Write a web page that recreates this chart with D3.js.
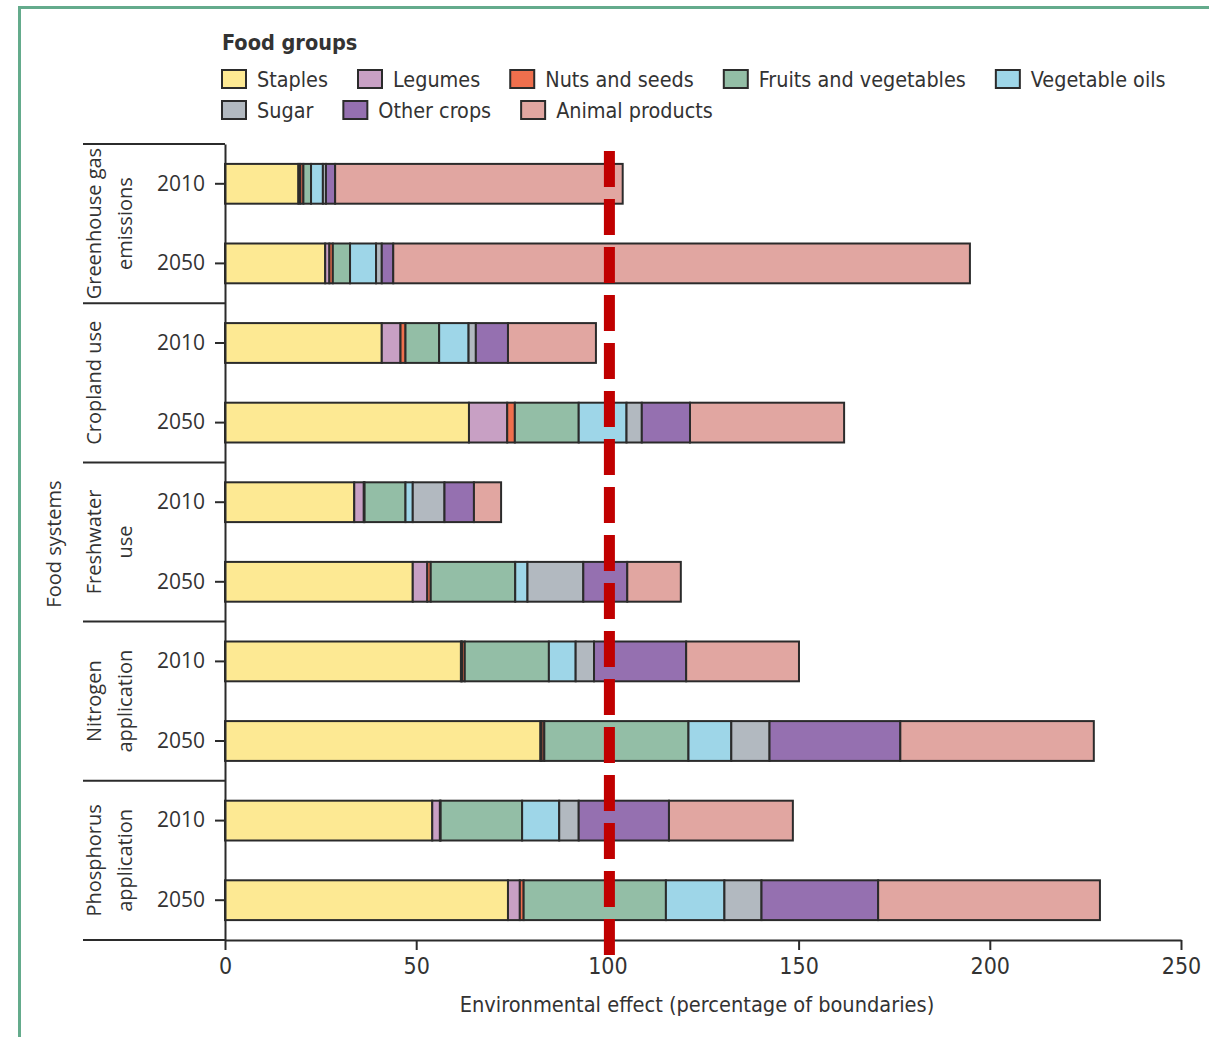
<!DOCTYPE html>
<html>
<head>
<meta charset="utf-8">
<script src="https://cdn.jsdelivr.net/npm/d3@7"></script>
<style>
  body { margin: 0; background: #fff; }
  svg { display: block; }
</style>
</head>
<body>
<svg width="1209" height="1037"></svg>
<script>
// food groups + colours (legend order = stack order)
const foodGroups = ["Staples", "Legumes", "Nuts and seeds", "Fruits and vegetables", "Vegetable oils",
                    "Sugar", "Other crops", "Animal products"];
const groupColors = ["#fde993", "#c8a0c4", "#ef6f4d", "#93bea6", "#9ed6e8", "#b2b9c0", "#9570b0", "#e1a6a1"];

// food system domains, label split over lines
const systems = [
    ["Greenhouse gas", "emissions"],
    ["Cropland use"],
    ["Freshwater", "use"],
    ["Nitrogen", "application"],
    ["Phosphorus", "application"]
];
const years = ["2010", "2050"];
const xTicks = [0, 50, 100, 150, 200, 250];
const boundary = 100;

// values per row: GHG 2010, GHG 2050, Crop 2010, Crop 2050, Water 2010, Water 2050,
// N 2010, N 2050, P 2010, P 2050
const staples   = [19.2, 26.2, 41.0, 63.8, 33.8, 49.1, 61.7, 82.5, 54.2, 74.0];
const legumes   = [0.5, 1.1, 4.9, 10.0, 2.5, 3.8, 0.3, 0.3, 2.0, 3.1];
const nuts      = [0.8, 0.9, 1.3, 2.0, 0.2, 0.9, 0.7, 0.7, 0.2, 1.0];
const fruitsVeg = [2.0, 4.5, 8.8, 16.7, 10.7, 22.1, 22.0, 37.7, 21.3, 37.2];
const vegOils   = [3.1, 6.8, 7.7, 12.5, 1.9, 3.2, 7.0, 11.2, 9.7, 15.3];
const sugar     = [0.8, 1.5, 1.9, 4.0, 8.3, 14.6, 4.8, 10.0, 5.1, 9.7];
const otherCrops = [2.4, 3.0, 8.4, 12.6, 7.7, 11.5, 24.1, 34.2, 23.6, 30.5];
const animal    = [75.2, 150.8, 23.0, 40.3, 7.1, 14.0, 29.5, 50.6, 32.4, 58.0];

const seriesValues = [staples, legumes, nuts, fruitsVeg, vegOils, sugar, otherCrops, animal];

const condensed = "'DejaVu Sans Condensed', 'DejaVu Sans', sans-serif";
const regular = "'Open Sans', 'Noto Sans', sans-serif";
const ink = "#2b2b2b";

// rows = system|year
const rows = [];
systems.forEach((s, i) => years.forEach(y => rows.push(i + "|" + y)));

const dataset = rows.map((r, i) => {
    const o = { row: r };
    foodGroups.forEach((g, j) => { o[g] = seriesValues[j][i]; });
    return o;
});

const svg = d3.select("svg");

// frame
svg.append("path")
    .attr("d", "M19.5,1037V7.5H1209")
    .attr("fill", "none")
    .attr("stroke", "#64ab8c")
    .attr("stroke-width", 3);

const xScale = d3.scaleLinear().domain([0, 250]).range([225, 1181]);
const yScale = d3.scaleBand().domain(rows).range([144, 940])
    .paddingInner(0.5).paddingOuter(0.25);
const color = d3.scaleOrdinal().domain(foodGroups).range(groupColors);

const stacked = d3.stack().keys(foodGroups)(dataset);

// bars
svg.append("g")
    .selectAll("g")
    .data(stacked)
    .enter().append("g")
    .attr("fill", d => color(d.key))
    .selectAll("rect")
    .data(d => d)
    .enter().append("rect")
    .attr("x", d => xScale(d[0]))
    .attr("y", d => yScale(d.data.row))
    .attr("width", d => xScale(d[1]) - xScale(d[0]))
    .attr("height", yScale.bandwidth())
    .attr("stroke", ink)
    .attr("stroke-width", 2);

// group separators + labels
const step = yScale.step();
systems.forEach((s, i) => {
    const top = yScale(i + "|2010") - step * 0.25;
    svg.append("line")
        .attr("x1", 83).attr("x2", xScale(0))
        .attr("y1", top).attr("y2", top)
        .attr("stroke", ink).attr("stroke-width", 2);

    const cy = top + step;
    const baselines = s.length === 1 ? [101] : [101, 132];
    s.forEach((line, k) => {
        svg.append("text")
            .attr("transform", `translate(${baselines[k]},${cy}) rotate(-90)`)
            .attr("text-anchor", "middle")
            .style("font-family", regular)
            .style("font-size", "20px")
            .attr("fill", "#333")
            .text(line);
    });
});

// y axis
const yAxis = svg.append("g")
    .attr("transform", `translate(${xScale(0)},0)`)
    .call(d3.axisLeft(yScale).tickSize(10).tickSizeOuter(0).tickPadding(10)
        .tickFormat(d => d.split("|")[1]));
yAxis.select(".domain").attr("stroke", ink).attr("stroke-width", 2);
yAxis.selectAll(".tick line").attr("stroke", ink).attr("stroke-width", 2);
yAxis.selectAll(".tick text")
    .style("font-family", regular)
    .style("font-size", "21px")
    .attr("fill", "#333");

// x axis
const xAxis = svg.append("g")
    .attr("transform", `translate(0,940)`)
    .call(d3.axisBottom(xScale).tickValues(xTicks).tickSize(10).tickSizeOuter(0).tickPadding(8));
xAxis.select(".domain").attr("stroke", ink).attr("stroke-width", 2);
xAxis.selectAll(".tick line").attr("stroke", ink).attr("stroke-width", 2);
xAxis.selectAll(".tick text")
    .style("font-family", condensed)
    .style("font-size", "23px")
    .attr("fill", "#333");

svg.append("line")
    .attr("x1", 83).attr("x2", xScale(0))
    .attr("y1", 940).attr("y2", 940)
    .attr("stroke", ink).attr("stroke-width", 2);

svg.append("text")
    .attr("x", 697)
    .attr("y", 1012)
    .attr("text-anchor", "middle")
    .style("font-family", condensed)
    .style("font-size", "21.6px")
    .attr("fill", "#333")
    .text("Environmental effect (percentage of boundaries)");

svg.append("text")
    .attr("transform", "translate(61,544) rotate(-90)")
    .attr("text-anchor", "middle")
    .style("font-family", regular)
    .style("font-size", "20px")
    .attr("fill", "#333")
    .text("Food systems");

// 100% boundary line
svg.append("line")
    .attr("x1", xScale(boundary) + 2).attr("x2", xScale(boundary) + 2)
    .attr("y1", 151).attr("y2", 955)
    .attr("stroke", "#c00000")
    .attr("stroke-width", 11)
    .attr("stroke-dasharray", "36,12");

// legend
const legend = svg.append("g");
legend.append("text")
    .attr("x", 222).attr("y", 50)
    .style("font-family", condensed)
    .style("font-size", "21.5px")
    .style("font-weight", "bold")
    .attr("fill", "#333")
    .text("Food groups");

const legendRows = [foodGroups.slice(0, 5), foodGroups.slice(5)];
legendRows.forEach((items, r) => {
    let x = 222;
    const y = 79 + r * 31;
    items.forEach(g => {
        const item = legend.append("g").attr("transform", `translate(${x},${y})`);
        item.append("rect")
            .attr("x", 0).attr("y", -9)
            .attr("width", 24).attr("height", 18)
            .attr("fill", color(g))
            .attr("stroke", ink)
            .attr("stroke-width", 2);
        const t = item.append("text")
            .attr("x", 35).attr("y", 8)
            .style("font-family", condensed)
            .style("font-size", "21.4px")
            .attr("fill", "#333")
            .text(g);
        x += 35 + t.node().getComputedTextLength() + 30;
    });
});
</script>
</body>
</html>
